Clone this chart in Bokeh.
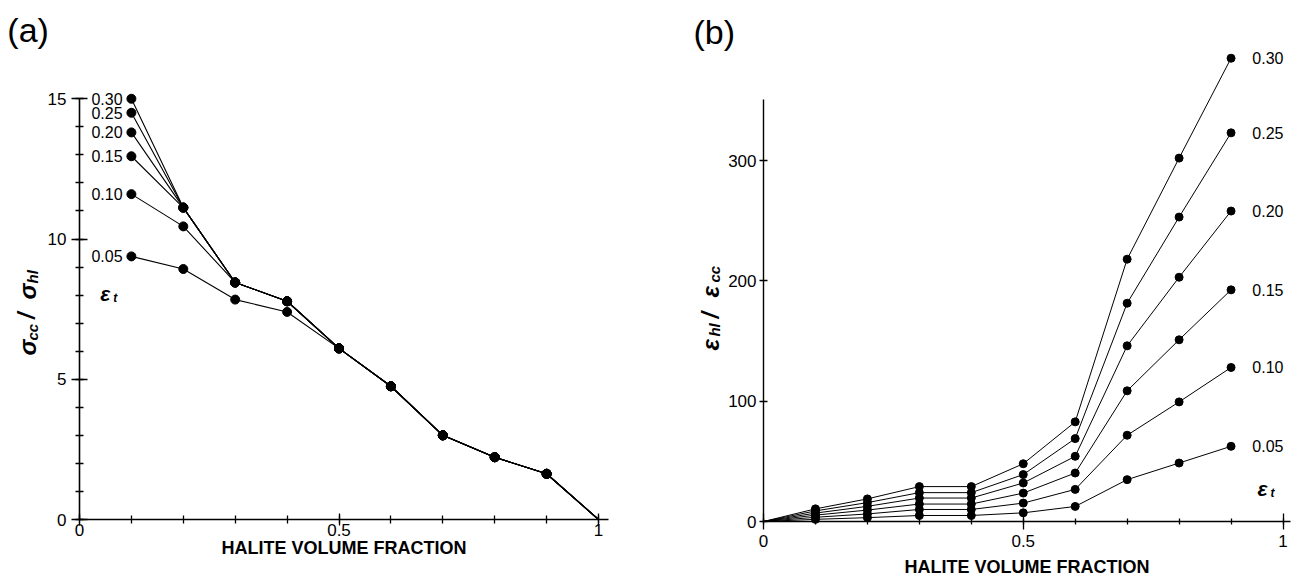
import math
from bokeh.plotting import figure
from bokeh.layouts import row
from bokeh.models import FixedTicker, Label, CustomJSTickFormatter
from bokeh.embed import file_html
from bokeh.resources import INLINE
from bokeh.core.properties import value

# ---------------- data: panel (a) ----------------
halite_a = [0.1, 0.2, 0.3, 0.4, 0.5, 0.6, 0.7, 0.8, 0.9, 1.0]
strain_names = ["0.05", "0.10", "0.15", "0.20", "0.25", "0.30"]
sig_005 = [9.38, 8.93, 7.84, 7.40, 6.10, 4.75, 3.00, 2.22, 1.63, 0.0]
sig_010 = [11.60, 10.45, 8.45, 7.78, 6.10, 4.75, 3.00, 2.22, 1.63, 0.0]
sig_015 = [12.95, 11.12, 8.45, 7.78, 6.10, 4.75, 3.00, 2.22, 1.63, 0.0]
sig_020 = [13.80, 11.12, 8.45, 7.78, 6.10, 4.75, 3.00, 2.22, 1.63, 0.0]
sig_025 = [14.50, 11.12, 8.45, 7.78, 6.10, 4.75, 3.00, 2.22, 1.63, 0.0]
sig_030 = [15.00, 11.12, 8.45, 7.78, 6.10, 4.75, 3.00, 2.22, 1.63, 0.0]

# ---------------- data: panel (b) ----------------
halite_b = [0.0, 0.1, 0.2, 0.3, 0.4, 0.5, 0.6, 0.7, 0.8, 0.9]
eps_005 = [0, 1.8, 3.2, 5.0, 5.0, 7.2, 12.5, 34.8, 48.6, 62.5]
eps_010 = [0, 3.5, 6.3, 10.0, 10.0, 15.3, 26.7, 71.7, 99.4, 128.0]
eps_015 = [0, 5.3, 9.5, 14.5, 14.5, 23.6, 40.3, 108.6, 151.0, 192.5]
eps_020 = [0, 7.0, 12.6, 19.5, 19.5, 32.0, 54.2, 146.0, 203.0, 258.0]
eps_025 = [0, 8.8, 15.7, 24.0, 24.0, 39.0, 68.9, 181.4, 253.0, 323.0]
eps_030 = [0, 10.5, 18.8, 29.0, 29.0, 48.0, 82.8, 218.0, 302.0, 385.0]

x_major = [0, 0.5, 1]
x_minor = [0.0, 0.1, 0.2, 0.3, 0.4, 0.5, 0.6, 0.7, 0.8, 0.9, 1.0]
ya_major = [0, 5, 10, 15]
ya_minor = list(range(0, 16))
yb_major = [0, 100, 200, 300]

FONT = "Liberation Sans"

series_a = [sig_005, sig_010, sig_015, sig_020, sig_025, sig_030]
series_b = [eps_005, eps_010, eps_015, eps_020, eps_025, eps_030]


def base_fig(width, xr, yr):
    p = figure(width=width, height=582, x_range=xr, y_range=yr,
               output_backend="svg", toolbar_location=None,
               min_border_left=0, min_border_right=0,
               min_border_top=0, min_border_bottom=0)
    p.outline_line_color = None
    p.grid.visible = False
    p.background_fill_color = "white"
    p.border_fill_color = "white"
    return p


def style_axis(ax, width=1.6):
    ax.fixed_location = 0
    ax.axis_line_width = width
    ax.axis_line_color = "black"
    ax.major_tick_line_color = "black"
    ax.minor_tick_line_color = "black"
    ax.major_tick_line_width = 1.3
    ax.minor_tick_line_width = 1.3
    ax.major_label_text_font = FONT
    ax.major_label_text_color = "black"
    ax.axis_label_text_font = FONT
    ax.axis_label_text_font_style = "bold"
    ax.axis_label_text_color = "black"


def add_piece(p, x, y, text, size, style="bold italic", angle=0.0):
    p.add_layout(Label(x=x, y=y, text=text, angle=angle,
                       text_font=FONT, text_font_size=f"{size}px",
                       text_font_style=style, text_color="black",
                       text_align="left", text_baseline="alphabetic"))


rot = math.pi / 2

# ================= panel (a) =================
p1 = base_fig(638, (-0.15222, 1.07707), (-2.246, 18.503))
xa = p1.xaxis[0]
ya = p1.yaxis[0]
style_axis(xa)
style_axis(ya)
xa.ticker = FixedTicker(ticks=x_major, minor_ticks=x_minor)
xa.formatter = CustomJSTickFormatter(code="return String(tick)")
xa.bounds = (0, 1.02)
xa.major_tick_in = 6
xa.major_tick_out = 6
xa.minor_tick_in = 4
xa.minor_tick_out = 4
xa.major_label_standoff = -2
xa.major_label_text_font_size = "17px"
xa.axis_label = "HALITE VOLUME FRACTION"
xa.axis_label_text_font_size = "18px"
xa.axis_label_standoff = -1

ya.ticker = FixedTicker(ticks=ya_major, minor_ticks=ya_minor)
ya.bounds = (0, 15)
ya.major_tick_in = 8
ya.major_tick_out = 8
ya.minor_tick_in = 4
ya.minor_tick_out = 4
ya.major_label_standoff = 5
ya.major_label_text_font_size = "17px"

for s in series_a:
    p1.line(halite_a, s, line_color="black", line_width=1.1)
for s in series_a:
    p1.scatter(halite_a[:-1], s[:-1], size=9, color="black")

p1.text(x=[0.083] * 6, y=[s[0] for s in series_a], text=strain_names,
        text_font=value(FONT), text_font_size="16px", text_color="black",
        text_align="right", text_baseline="middle")

add_piece(p1, 0.040, 8.06, "ε", 21)
add_piece(p1, 0.065, 7.90, "t", 12)

# y title: sigma_cc / sigma_hl
add_piece(p1, -0.1002, 5.847, "σ", 24, angle=rot)
add_piece(p1, -0.0906, 6.381, "cc", 15, angle=rot)
add_piece(p1, -0.1002, 7.15, "/", 23, angle=rot)
add_piece(p1, -0.1002, 7.843, "σ", 24, angle=rot)
add_piece(p1, -0.0906, 8.414, "hl", 15, angle=rot)

p1.add_layout(Label(x=-0.139, y=17.45, text="(a)", text_font=FONT,
                    text_font_size="34px", text_color="black",
                    text_align="left", text_baseline="middle"))

# ================= panel (b) =================
p2 = base_fig(659, (-0.24062, 1.02791), (-50.69, 432.98))
xb = p2.xaxis[0]
yb = p2.yaxis[0]
style_axis(xb, 1.4)
style_axis(yb, 1.4)
xb.ticker = FixedTicker(ticks=x_major, minor_ticks=x_minor)
xb.formatter = CustomJSTickFormatter(code="return String(tick)")
xb.bounds = (0, 1.015)
xb.major_tick_in = 8
xb.major_tick_out = 8
xb.minor_tick_in = 3
xb.minor_tick_out = 3
xb.major_label_standoff = 5
xb.major_label_text_font_size = "17px"
xb.axis_label = "HALITE VOLUME FRACTION"
xb.axis_label_text_font_size = "18px"
xb.axis_label_standoff = 7

yb.ticker = FixedTicker(ticks=yb_major, minor_ticks=[])
yb.bounds = (0, 351)
yb.major_tick_in = 4
yb.major_tick_out = 4
yb.minor_tick_in = 0
yb.minor_tick_out = 0
yb.major_label_standoff = 3
yb.major_label_text_font_size = "17px"

for s in series_b:
    p2.line(halite_b, s, line_color="black", line_width=1.0)
for s in series_b:
    p2.scatter(halite_b[1:], s[1:], size=8, color="black")

p2.text(x=[0.941] * 6, y=[s[-1] for s in series_b], text=strain_names,
        text_font=value(FONT), text_font_size="16px", text_color="black",
        text_align="left", text_baseline="middle")

add_piece(p2, 0.951, 27.4, "ε", 21)
add_piece(p2, 0.976, 24.1, "t", 12)

# y title: eps_hl / eps_cc
add_piece(p2, -0.102, 142.1, "ε", 24, angle=rot)
add_piece(p2, -0.0943, 153.7, "hl", 15, angle=rot)
add_piece(p2, -0.102, 168.7, "/", 23, angle=rot)
add_piece(p2, -0.102, 186.2, "ε", 24, angle=rot)
add_piece(p2, -0.0943, 198.6, "cc", 15, angle=rot)

p2.add_layout(Label(x=-0.1347, y=407, text="(b)", text_font=FONT,
                    text_font_size="34px", text_color="black",
                    text_align="left", text_baseline="middle"))

layout = row(p1, p2)
open("out.html", "w").write(file_html(layout, INLINE))
